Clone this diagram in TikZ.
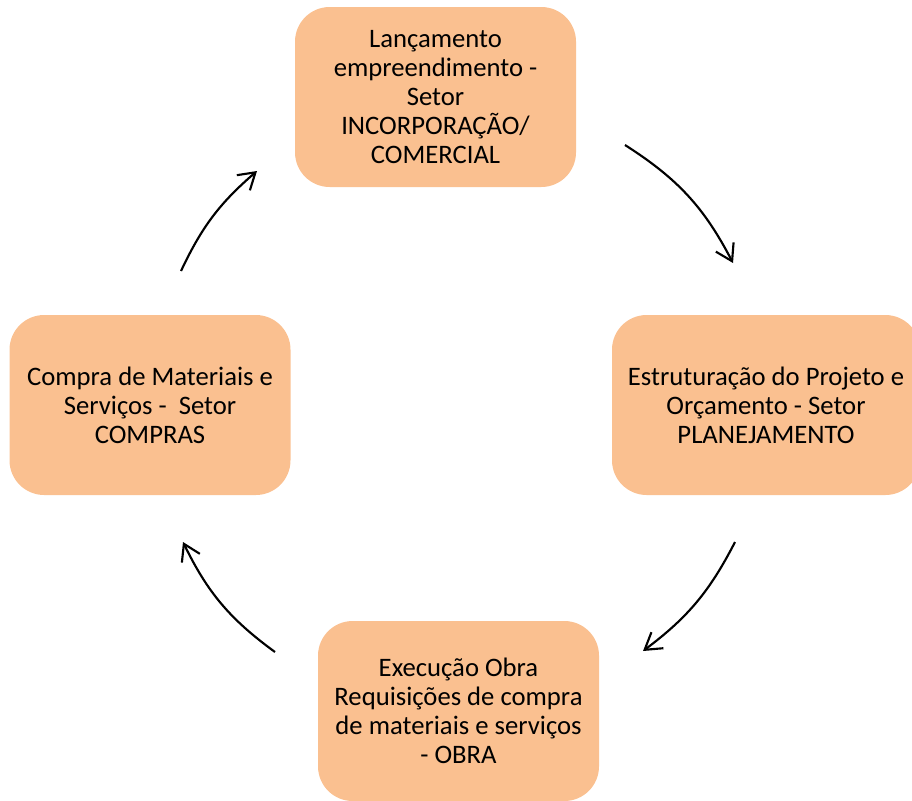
\documentclass[tikz,border=0pt]{standalone}
\usepackage{fontspec}
\setmainfont{Carlito}
\usepackage{tikz}
\usetikzlibrary{arrows.meta}
\definecolor{peach}{HTML}{FAC090}
\tikzset{>={Straight Barb[length=12pt,width=15pt]}}
\tikzstyle{line} = [draw, ->, line width=1.6pt]

\begin{document}
\begin{tikzpicture}[
  x=0.75pt, y=-0.75pt,
	box/.style={minimum width=210.75pt, minimum height=135pt,
		rectangle, rounded corners=26pt, fill=peach, align=center,
		inner sep=0pt, font=\fontsize{20}{21.75}\selectfont}]
	\useasboundingbox (0,0) rectangle (912,800);
	%% Setores
	\node [box] at (435.5,97) (INC) {Lançamento\\empreendimento -\\Setor\\INCORPORAÇÃO/\\COMERCIAL};
	\node [box, minimum width=231pt] at (766,405) (PLA) {Estruturação do Projeto e\\Orçamento - Setor\\PLANEJAMENTO};
	\node [box] at (458.5,711) (OBR) {Execução Obra\\Requisições de compra\\de materiais e serviços\\- OBRA};
	\node [box] at (150,405) (COM) {Compra de Materiais e\\Serviços - \ Setor\\COMPRAS};
	%% Pontas das setas
	\coordinate (a1) at (625,145);
	\coordinate (b1) at (733,263);
	\coordinate (a2) at (735,542);
	\coordinate (b2) at (643,651);
	\coordinate (a3) at (275,652);
	\coordinate (b3) at (183,542);
	\coordinate (a4) at (181,271);
	\coordinate (b4) at (257,171);
	%% Fluxo
	\path [line, bend left=15] (a1) to (b1);
	\path [line, bend left=13] (a2) to (b2);
	\path [line, bend left=14] (a3) to (b3);
	\path [line, bend left=12] (a4) to (b4);
\end{tikzpicture}
\end{document}
